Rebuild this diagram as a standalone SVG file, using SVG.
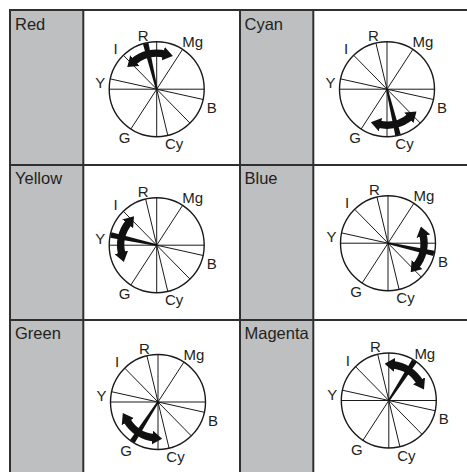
<svg xmlns="http://www.w3.org/2000/svg" xmlns:xlink="http://www.w3.org/1999/xlink" width="467" height="472" viewBox="0 0 467 472">
<style>
.bg{fill:#ffffff}
.gray{fill:#bdbfc1}
.grid{stroke:#2f2f2f;stroke-width:2;fill:none}
.title{font-family:"Liberation Sans",Arial,Helvetica,sans-serif;font-size:16.5px;fill:#231f20}
.lbl{font-family:"Liberation Sans",Arial,Helvetica,sans-serif;font-size:15px;fill:#231f20;text-anchor:middle}
.ring{fill:#ffffff;stroke:#1a1a1a;stroke-width:1.4}
.spoke{stroke:#1a1a1a;stroke-width:1}
.needle{fill:#111111}
.arc{fill:none;stroke:#111111;stroke-width:7.5}
</style>
<defs>
<marker id="ah" viewBox="0 0 10 14" refX="2" refY="7" markerWidth="10" markerHeight="14" markerUnits="userSpaceOnUse" orient="auto-start-reverse">
<path d="M0,0 L10,7 L0,14 Z" fill="#111111"/>
</marker>
<g id="wheel">
<circle class="ring" cx="0" cy="0" r="47.5"/>
<line class="spoke" x1="-47.5" y1="0" x2="47.5" y2="0"/>
<line class="spoke" x1="0" y1="-47.5" x2="0" y2="47.5"/>
<line class="spoke" x1="-11.09" y1="-46.19" x2="11.09" y2="46.19"/>
<line class="spoke" x1="25.87" y1="-39.84" x2="-25.87" y2="39.84"/>
<line class="spoke" x1="-46.37" y1="-10.28" x2="46.37" y2="10.28"/>
<line class="spoke" x1="-33.29" y1="-33.88" x2="33.29" y2="33.88"/>
</g>
<g id="pointer">
<polygon class="needle" points="-0.9,0 0.9,0 2.8,-47 -2.8,-47"/>
<path class="arc" d="M -16.34 -32.08 A 36 36 0 0 1 16.34 -32.08" marker-start="url(#ah)" marker-end="url(#ah)"/>
</g>
</defs>
<rect class="bg" x="0" y="0" width="467" height="472"/>
<g id="grid">
<rect class="gray" x="10" y="10" width="73.3" height="462"/>
<rect class="gray" x="240" y="10" width="73.3" height="462"/>
<line class="grid" x1="9" y1="10" x2="467" y2="10"/>
<line class="grid" x1="10" y1="10" x2="10" y2="472"/>
<line class="grid" x1="83.3" y1="10" x2="83.3" y2="472"/>
<line class="grid" x1="240" y1="10" x2="240" y2="472"/>
<line class="grid" x1="313.3" y1="10" x2="313.3" y2="472"/>
<line class="grid" x1="10" y1="165" x2="467" y2="165"/>
<line class="grid" x1="10" y1="320" x2="467" y2="320"/>
</g>
<g id="red">
<text class="title" x="15" y="30">Red</text>
<g transform="translate(156.7,89.2)">
<use xlink:href="#wheel"/>
<text class="lbl" x="-13.5" y="-48.5">R</text><text class="lbl" x="36" y="-42">Mg</text><text class="lbl" x="-41" y="-35">I</text><text class="lbl" x="-56.5" y="-1">Y</text><text class="lbl" x="55" y="23.5">B</text><text class="lbl" x="-32" y="54">G</text><text class="lbl" x="17.5" y="60">Cy</text>
<use xlink:href="#pointer" transform="rotate(-13.5)"/>
</g>
</g>
<g id="cyan">
<text class="title" x="244.5" y="30">Cyan</text>
<g transform="translate(387,89.2)">
<use xlink:href="#wheel"/>
<text class="lbl" x="-13.5" y="-48.5">R</text><text class="lbl" x="36" y="-42">Mg</text><text class="lbl" x="-41" y="-35">I</text><text class="lbl" x="-56.5" y="-1">Y</text><text class="lbl" x="55" y="23.5">B</text><text class="lbl" x="-32" y="54">G</text><text class="lbl" x="17.5" y="60">Cy</text>
<use xlink:href="#pointer" transform="rotate(166.5)"/>
</g>
</g>
<g id="yellow">
<text class="title" x="15" y="184">Yellow</text>
<g transform="translate(156.7,245.2)">
<use xlink:href="#wheel"/>
<text class="lbl" x="-13.5" y="-48.5">R</text><text class="lbl" x="36" y="-42">Mg</text><text class="lbl" x="-41" y="-35">I</text><text class="lbl" x="-56.5" y="-1">Y</text><text class="lbl" x="55" y="23.5">B</text><text class="lbl" x="-32" y="54">G</text><text class="lbl" x="17.5" y="60">Cy</text>
<use xlink:href="#pointer" transform="rotate(-77.5)"/>
</g>
</g>
<g id="blue">
<text class="title" x="244.5" y="184">Blue</text>
<g transform="translate(388,243.2)">
<use xlink:href="#wheel"/>
<text class="lbl" x="-13.5" y="-48.5">R</text><text class="lbl" x="36" y="-42">Mg</text><text class="lbl" x="-41" y="-35">I</text><text class="lbl" x="-56.5" y="-1">Y</text><text class="lbl" x="55" y="23.5">B</text><text class="lbl" x="-32" y="54">G</text><text class="lbl" x="17.5" y="60">Cy</text>
<use xlink:href="#pointer" transform="rotate(102.5)"/>
</g>
</g>
<g id="green">
<text class="title" x="15" y="338.5">Green</text>
<g transform="translate(158,402)">
<use xlink:href="#wheel"/>
<text class="lbl" x="-13.5" y="-48.5">R</text><text class="lbl" x="36" y="-42">Mg</text><text class="lbl" x="-41" y="-35">I</text><text class="lbl" x="-56.5" y="-1">Y</text><text class="lbl" x="55" y="23.5">B</text><text class="lbl" x="-32" y="54">G</text><text class="lbl" x="17.5" y="60">Cy</text>
<use xlink:href="#pointer" transform="rotate(-147)"/>
</g>
</g>
<g id="magenta">
<text class="title" x="244.5" y="338.5">Magenta</text>
<g transform="translate(388.8,400.5)">
<use xlink:href="#wheel"/>
<text class="lbl" x="-13.5" y="-48.5">R</text><text class="lbl" x="36" y="-42">Mg</text><text class="lbl" x="-41" y="-35">I</text><text class="lbl" x="-56.5" y="-1">Y</text><text class="lbl" x="55" y="23.5">B</text><text class="lbl" x="-32" y="54">G</text><text class="lbl" x="17.5" y="60">Cy</text>
<use xlink:href="#pointer" transform="rotate(33)"/>
</g>
</g>
</svg>
